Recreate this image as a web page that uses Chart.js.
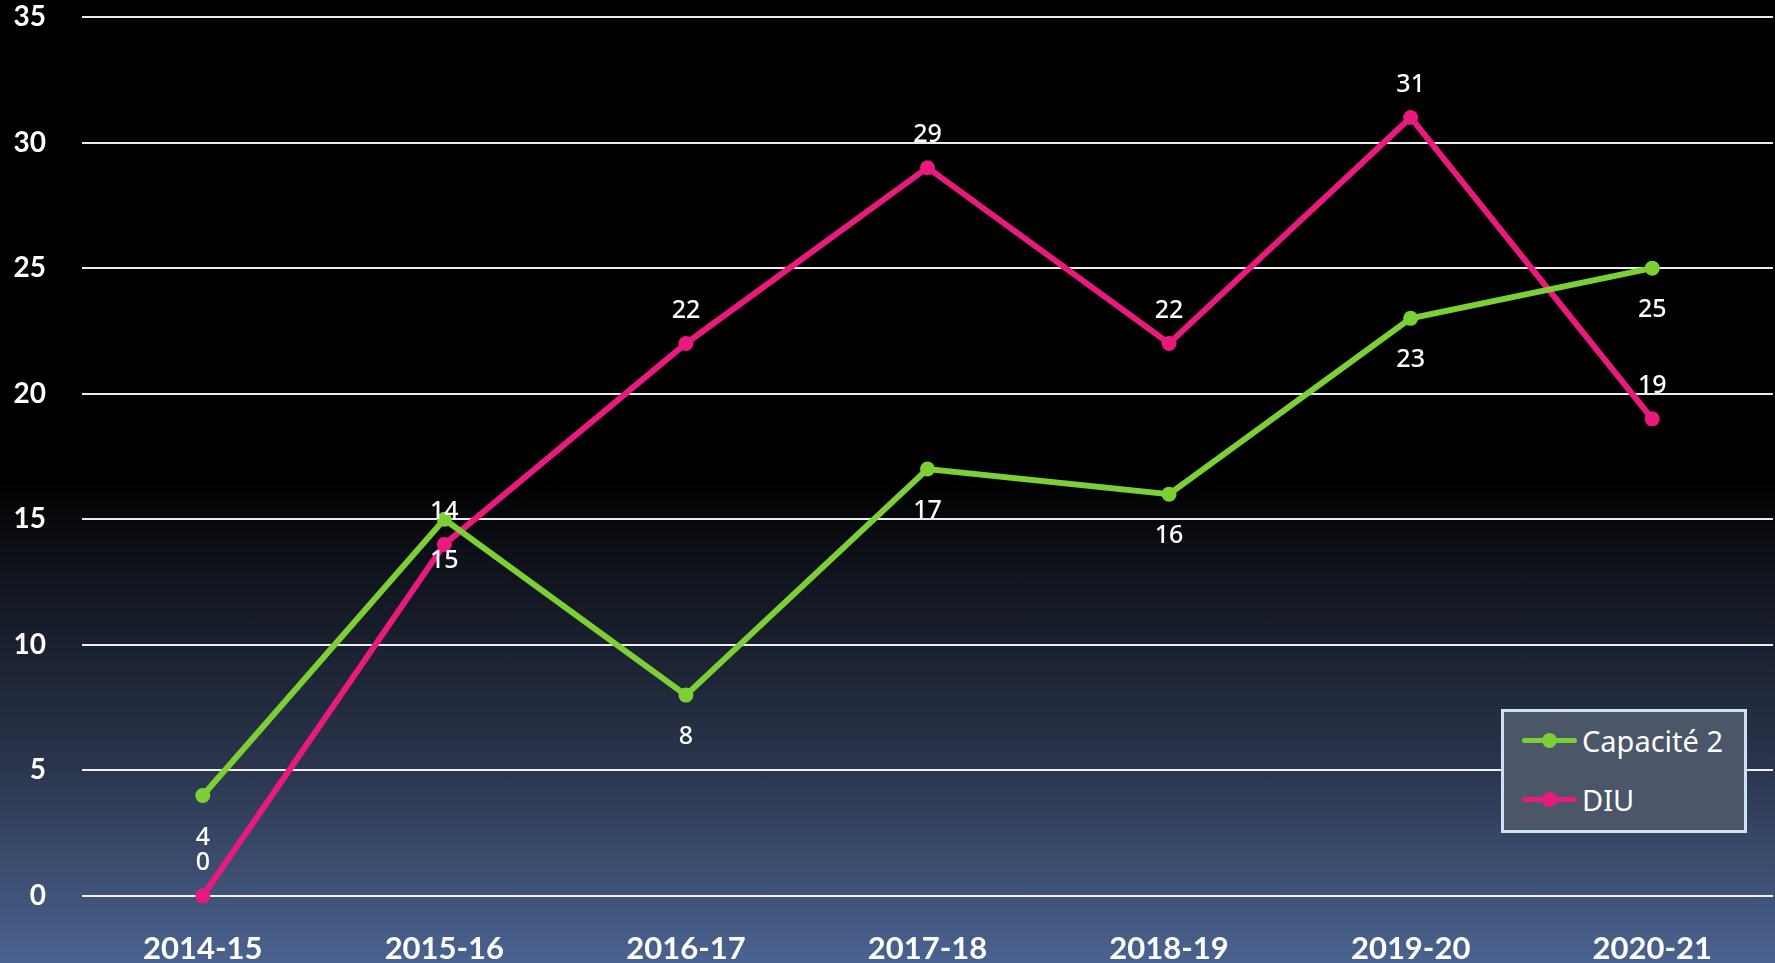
<!DOCTYPE html>
<html>
<head>
<meta charset="utf-8">
<script src="https://cdn.jsdelivr.net/npm/chart.js@4"></script>
<style>
  html, body {
    margin: 0;
    padding: 0;
    width: 1775px;
    height: 963px;
    overflow: hidden;
  }
  body {
    background: linear-gradient(to bottom, #000 0%, #000 50%, #0e1119 58%, #2b364e 80%, #4b6390 100%);
  }
  #wrap {
    position: relative;
    width: 1775px;
    height: 963px;
  }
  canvas {
    display: block;
  }
  #legend {
    position: absolute;
    left: 1501px;
    top: 709px;
    width: 246px;
    height: 124px;
    box-sizing: border-box;
    border: 3px solid #cde3f5;
    background: #4b5669;
    font-family: "Noto Sans", sans-serif;
    font-size: 29px;
    color: #fff;
  }
  .item {
    position: absolute;
    left: 18px;
    height: 40px;
    display: flex;
    align-items: center;
  }
  .swatch {
    position: relative;
    width: 55px;
    height: 5px;
    border-radius: 3px;
    margin-right: 5px;
  }
  .swatch i {
    position: absolute;
    left: 20px;
    top: -5px;
    width: 15px;
    height: 15px;
    border-radius: 50%;
    background: inherit;
  }
</style>
</head>
<body>
<div id="wrap">
  <canvas id="lineChart" width="1775" height="963"></canvas>
  <div id="legend"></div>
</div>
<script>
const seasons = ["2014-15", "2015-16", "2016-17", "2017-18", "2018-19", "2019-20", "2020-21"];
const capaciteValues = [4, 15, 8, 17, 16, 23, 25];
const diuValues = [0, 14, 22, 29, 22, 31, 19];
const seriesNames = ["Capacité 2", "DIU"];
const yTicks = [0, 5, 10, 15, 20, 25, 30, 35];

const GREEN = "#7ccf35";
const PINK = "#e9197d";

// values written next to each point, above or below depending on series
const valueLabels = {
  id: "valueLabels",
  afterDatasetsDraw(chart) {
    const ctx = chart.ctx;
    ctx.save();
    ctx.font = '500 25px "Noto Sans"';
    ctx.fillStyle = "#fff";
    ctx.textAlign = "center";
    ctx.textBaseline = "middle";
    chart.data.datasets.forEach((ds, i) => {
      chart.getDatasetMeta(i).data.forEach((pt, j) => {
        ctx.fillText(ds.data[j], pt.x, pt.y + ds.labelShift);
      });
    });
    ctx.restore();
  },
};

const lineStyle = {
  borderWidth: 6,
  pointRadius: 7.5,
  pointHoverRadius: 7.5,
  pointBorderWidth: 0,
  tension: 0,
  fill: false,
  clip: false,
};

const chart = new Chart(document.getElementById("lineChart"), {
  type: "line",
  data: {
    labels: seasons,
    datasets: [
      {
        ...lineStyle,
        label: seriesNames[0],
        data: capaciteValues,
        borderColor: GREEN,
        backgroundColor: GREEN,
        labelShift: 42,
      },
      {
        ...lineStyle,
        label: seriesNames[1],
        data: diuValues,
        borderColor: PINK,
        backgroundColor: PINK,
        labelShift: -33,
      },
    ],
  },
  options: {
    responsive: false,
    animation: false,
    layout: {
      autoPadding: false,
      padding: { top: 17, right: 2, left: 0, bottom: 0 },
    },
    scales: {
      x: {
        offset: true,
        grid: { display: false, drawTicks: false },
        border: { display: false },
        ticks: {
          color: "#fff",
          padding: 34,
          font: { family: "Lato", size: 31, weight: "bold" },
          maxRotation: 0,
        },
        afterFit(scale) {
          scale.height = 67;
          scale.paddingLeft = 0;
          scale.paddingRight = 0;
        },
      },
      y: {
        min: 0,
        max: 35,
        afterBuildTicks(scale) {
          scale.ticks = yTicks.map((v) => ({ value: v }));
        },
        grid: {
          color: "rgba(255, 255, 255, 0.92)",
          lineWidth: 2,
          drawTicks: false,
        },
        border: { display: false },
        ticks: {
          color: "#fff",
          padding: 36,
          font: { family: "Lato", size: 28, weight: "bold" },
        },
        afterFit(scale) {
          scale.width = 82;
          scale.paddingTop = 0;
          scale.paddingBottom = 0;
        },
      },
    },
    plugins: {
      legend: { display: false },
      tooltip: { enabled: false },
    },
  },
  plugins: [valueLabels],
});

// legend box drawn in html from the same datasets
const legendBox = document.getElementById("legend");
const rowTops = [8, 67];
chart.data.datasets.forEach((ds, i) => {
  const item = document.createElement("div");
  item.className = "item";
  item.style.top = rowTops[i] + "px";
  const swatch = document.createElement("span");
  swatch.className = "swatch";
  swatch.style.background = ds.borderColor;
  swatch.appendChild(document.createElement("i"));
  const text = document.createElement("span");
  text.textContent = ds.label;
  item.appendChild(swatch);
  item.appendChild(text);
  legendBox.appendChild(item);
});
</script>
</body>
</html>
